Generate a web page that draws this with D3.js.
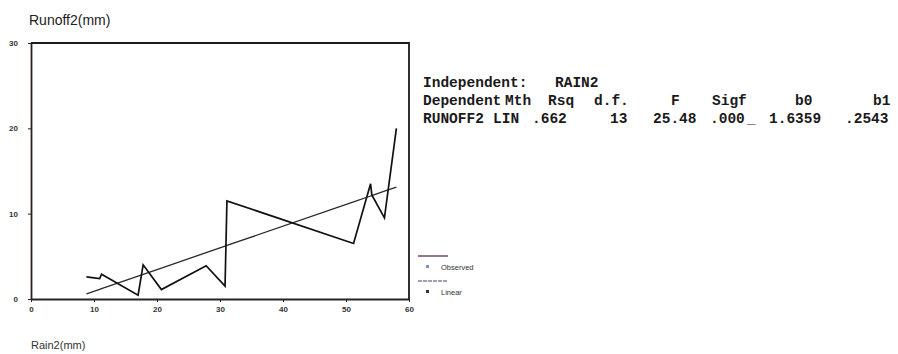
<!DOCTYPE html>
<html><head><meta charset="utf-8">
<script src="https://cdn.jsdelivr.net/npm/d3@7"></script>
<style>html,body{margin:0;padding:0;background:#fff;}svg{display:block;}</style>
</head><body>
<svg id="c" width="898" height="354"></svg>
<script>
// ---- data ----
const rain =   [8.8, 10.9, 11.2, 17.0, 17.8, 20.7, 27.8, 30.8, 31.1, 51.2, 53.9, 54.1, 56.1, 58.0];
const runoff = [2.6, 2.4, 2.9, 0.45, 4.0, 1.1, 3.9, 1.5, 11.5, 6.5, 13.5, 12.2, 9.5, 20.0];
const b0 = -1.6359, b1 = 0.2543;
const xTicks = [0, 10, 20, 30, 40, 50, 60];
const yTicks = [0, 10, 20, 30];
const legendLabels = ["Observed", "Linear"];
const line1 = [["Independent:", 423], ["RAIN2", 555]];
const line2 = [["Dependent", 423], ["Mth", 505], ["Rsq", 548], ["d.f.", 594], ["F", 671], ["Sigf", 712], ["b0", 795], ["b1", 873]];
const line3 = [["RUNOFF2", 423], ["LIN", 493], [".662", 532], ["13", 610], ["25.48", 653], [".000", 710], ["_", 747], ["1.6359", 769], [".2543", 845]];

const svg = d3.select("#c");
const x = d3.scaleLinear().domain([0, 60]).range([31, 409]);
const y = d3.scaleLinear().domain([0, 30]).range([299, 43]);

// frame
svg.append("path").attr("d", `M${x(0)},${y(30)}H${x(60)}V${y(0)}`)
  .attr("fill", "none").attr("stroke", "#1a1a22").attr("stroke-width", 1.8);

// axes
const xa = svg.append("g").attr("transform", `translate(0,${y(0)})`)
  .call(d3.axisBottom(x).tickValues(xTicks).tickSize(3).tickPadding(4).tickSizeOuter(0));
const ya = svg.append("g").attr("transform", `translate(${x(0)},0)`)
  .call(d3.axisLeft(y).tickValues(yTicks).tickSize(3).tickPadding(10).tickSizeOuter(0));
[xa, ya].forEach(g => {
  g.select(".domain").attr("stroke", "#2a2220").attr("stroke-width", 1.8);
  g.selectAll(".tick line").attr("stroke", "#222");
  g.selectAll("text").attr("font-family", "Liberation Sans, Arial, sans-serif")
    .attr("font-size", 8).attr("font-weight", "bold").attr("fill", "#333");
});

// fitted line
const fit = rain.map(r => [r, b0 + b1 * r]);
svg.append("path").datum(fit)
  .attr("d", d3.line().x(d => x(d[0])).y(d => y(d[1])))
  .attr("fill", "none").attr("stroke", "#2a2a2a").attr("stroke-width", 1.3);

// observed line
svg.append("path").datum(rain.map((r, i) => [r, runoff[i]]))
  .attr("d", d3.line().x(d => x(d[0])).y(d => y(d[1])))
  .attr("fill", "none").attr("stroke", "#111").attr("stroke-width", 1.7)
  .attr("stroke-linejoin", "miter");

// titles
svg.append("text").attr("x", 29).attr("y", 25).text("Runoff2(mm)")
  .attr("font-family", "Liberation Sans, Arial, sans-serif").attr("font-size", 14).attr("fill", "#222");
svg.append("text").attr("x", 31).attr("y", 349).text("Rain2(mm)")
  .attr("font-family", "Liberation Sans, Arial, sans-serif").attr("font-size", 11).attr("fill", "#333");

// legend
const lg = svg.append("g");
legendLabels.forEach((lab, i) => {
  const oy = i * 25;
  lg.append("line").attr("x1", 418).attr("x2", 448).attr("y1", 256 + oy).attr("y2", 256 + oy)
    .attr("stroke", i === 0 ? "#4a2038" : "#4a3a6a").attr("stroke-width", 1.2)
    .attr("stroke-dasharray", i === 0 ? null : "4,1");
  lg.append("rect").attr("x", 426).attr("y", 265 + oy).attr("width", 3).attr("height", 3)
    .attr("fill", i === 0 ? "#8888cc" : "#333");
  lg.append("text").attr("x", 441).attr("y", 270 + oy).text(lab)
    .attr("font-family", "Liberation Sans, Arial, sans-serif").attr("font-size", 7.5).attr("fill", "#333");
});

// stats text
const tg = svg.append("g").attr("font-family", "Liberation Mono, Courier New, monospace")
  .attr("font-weight", "bold").attr("font-size", 14.5).attr("fill", "#1a1a1a");
[[line1, 87], [line2, 105], [line3, 123]].forEach(([toks, yy]) => {
  toks.forEach(([t, xx]) => tg.append("text").attr("x", xx).attr("y", yy).text(t));
});
</script>
</body></html>
